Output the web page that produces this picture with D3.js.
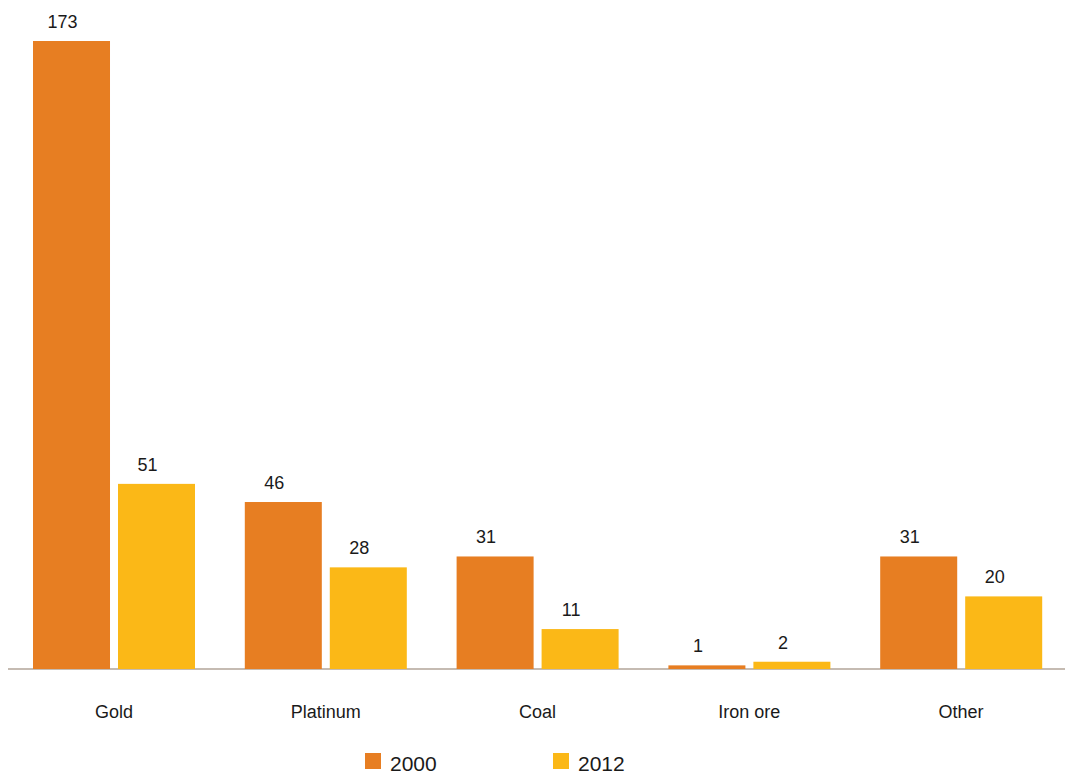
<!DOCTYPE html>
<html>
<head>
<meta charset="utf-8">
<script src="https://cdn.jsdelivr.net/npm/d3@7"></script>
<style>
  html, body { margin: 0; padding: 0; background: #fff; }
  svg { display: block; font-family: "Liberation Sans", Arial, Helvetica, sans-serif; }
</style>
</head>
<body>
<svg id="chart" width="1065" height="776"></svg>
<script>
const categories = ["Gold", "Platinum", "Coal", "Iron ore", "Other"];
const seriesNames = ["2000", "2012"];
const values2000 = [173, 46, 31, 1, 31];
const values2012 = [51, 28, 11, 2, 20];
const colors = ["#e77e22", "#fbb817"];

const seriesValues = [values2000, values2012];
const data = categories.map((c, i) => ({
  category: c,
  values: seriesNames.map((s, j) => ({ series: s, value: seriesValues[j][i] }))
}));

const svg = d3.select("#chart");
const baseline = 669;

const x0 = d3.scaleBand().domain(categories).range([8, 1067]).padding(0);
const x1 = d3.scaleBand().domain(seriesNames).range([25, 187]).paddingInner(0.094);
const y = d3.scaleLinear().domain([0, 173]).range([baseline, 41]);
const color = d3.scaleOrdinal().domain(seriesNames).range(colors);

// axis line
svg.append("line")
  .attr("x1", 8).attr("x2", 1065)
  .attr("y1", baseline).attr("y2", baseline)
  .attr("stroke", "#c5bbb2").attr("stroke-width", 2);

const groups = svg.append("g").selectAll("g")
  .data(data).join("g")
  .attr("transform", d => `translate(${x0(d.category)},0)`);

groups.selectAll("rect")
  .data(d => d.values).join("rect")
  .attr("x", d => x1(d.series))
  .attr("width", x1.bandwidth())
  .attr("y", d => y(d.value))
  .attr("height", d => baseline - y(d.value))
  .attr("fill", d => color(d.series));

groups.selectAll("text.val")
  .data(d => d.values).join("text")
  .attr("class", "val")
  .attr("x", d => x1(d.series) + x1.bandwidth() / 2 - 9)
  .attr("y", d => y(d.value) - 13)
  .attr("text-anchor", "middle")
  .attr("font-size", 18)
  .attr("fill", "#1a1a1a")
  .text(d => d.value);

// category axis labels
const xAxis = d3.axisBottom(x0).tickSize(0).tickPadding(0);
const ax = svg.append("g").attr("transform", `translate(0,${baseline})`).call(xAxis);
ax.select(".domain").remove();
ax.selectAll("text")
  .attr("font-size", 18)
  .attr("font-family", "\"Liberation Sans\", Arial, sans-serif")
  .attr("fill", "#1a1a1a")
  .attr("dy", 0)
  .attr("y", 49);

// legend
const legendX = [365, 553];
const legend = svg.append("g").selectAll("g")
  .data(seriesNames).join("g")
  .attr("transform", (d, i) => `translate(${legendX[i]},753)`);
legend.append("rect")
  .attr("width", 16).attr("height", 16)
  .attr("fill", d => color(d));
legend.append("text")
  .attr("x", 25).attr("y", 18)
  .attr("font-size", 21)
  .attr("fill", "#1a1a1a")
  .text(d => d);
</script>
</body>
</html>
